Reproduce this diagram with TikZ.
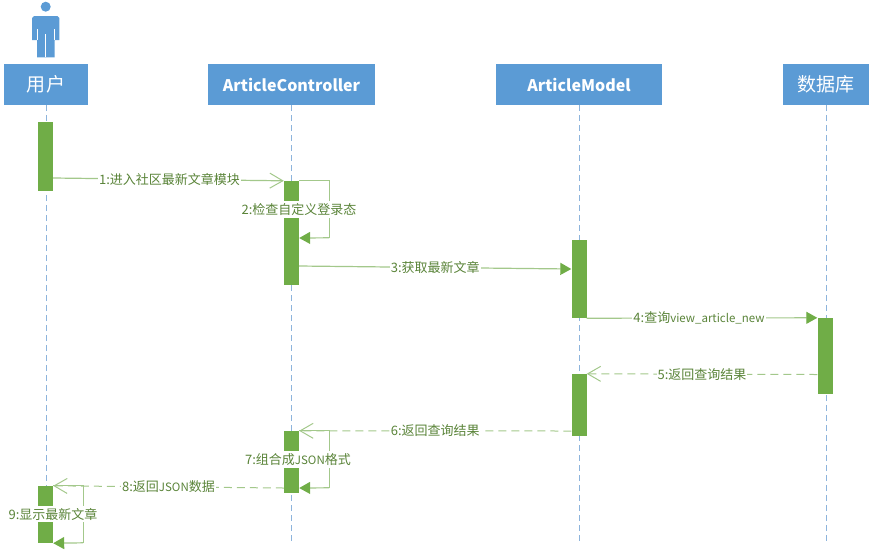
\documentclass[tikz,border=0pt]{standalone}
\usepackage{fontspec}
\setmainfont{Noto Sans CJK SC}
\usetikzlibrary{arrows.meta}
\definecolor{headblue}{HTML}{5B9BD5}
\definecolor{lineblue}{HTML}{8DB4DC}
\definecolor{bargreen}{HTML}{70AD47}
\definecolor{msggreen}{HTML}{A3C88B}
\definecolor{textgreen}{HTML}{5A8439}
\newcommand{\latinpart}[1]{{\fontsize{11.5}{14}\selectfont #1}}
\tikzset{
  lifehead/.style={fill=headblue,text=white,minimum height=41pt,inner sep=0pt,font=\fontsize{16}{20}\selectfont\bfseries},
  cjkhead/.style={lifehead,font=\fontsize{19}{22}\selectfont},
  lifeline/.style={lineblue,line width=1pt,dash pattern=on 6pt off 4pt},
  actbar/.style={fill=bargreen,minimum width=15pt,inner sep=0pt},
  msglabel/.style={fill=white,text=textgreen,inner xsep=1pt,inner ysep=2pt,font=\fontsize{13}{15}\selectfont},
  callmsg/.style={msggreen,line width=1.2pt,-{Triangle[length=11pt,width=12pt,color=bargreen]}},
  openmsg/.style={msggreen,line width=1.2pt,-{Straight Barb[length=13pt,width=15pt,line width=1pt,color=msggreen]}},
  backmsg/.style={openmsg,line width=1pt,dash pattern=on 8pt off 5pt},
}
\begin{document}
\begin{tikzpicture}[x=1pt,y=-1pt]
\useasboundingbox (0,0) rectangle (869,550);

% actor
\fill[headblue] (45.7,6.7) circle (5);
\fill[headblue] (34,16) -- (57.5,16) -- (59.3,18) -- (59.3,40) -- (54.5,40) -- (54.5,57.3)
  -- (37,57.3) -- (37,40) -- (32,40) -- (32,18) -- cycle;
\draw[white,line width=.7pt] (45.7,34) -- (45.7,57.3) (37,29) -- (37,40) (54.5,29) -- (54.5,40);

% heads
\node[cjkhead,minimum width=84pt] (user) at (46,84.5) {用户};
\node[lifehead,minimum width=167pt] (ctrl) at (291.5,84.5) {ArticleController};
\node[lifehead,minimum width=166pt] (model) at (579,84.5) {ArticleModel};
\node[cjkhead,minimum width=86pt] (db) at (826,84.5) {数据库};

% lifelines
\coordinate (userend) at (46,490);
\coordinate (ctrlend) at (291.5,541);
\coordinate (modelend) at (579,541);
\coordinate (dbend) at (826,541);
\draw[lifeline] (user) -- (userend);
\draw[lifeline] (ctrl) -- (ctrlend);
\draw[lifeline] (model) -- (modelend);
\draw[lifeline] (db) -- (dbend);

% activations
\node[actbar,minimum height=69pt] (user1) at (45.5,156.5) {};
\node[actbar,minimum height=104pt] (ctrl1) at (291.5,233) {};
\node[actbar,minimum height=78pt] (model1) at (579,279) {};
\node[actbar,minimum height=76pt] (db1) at (825,356) {};
\node[actbar,minimum height=62pt] (model2) at (579,405) {};
\node[actbar,minimum height=62pt] (ctrl2) at (291.5,462) {};
\node[actbar,minimum height=57pt] (user2) at (45.5,514.5) {};

% messages
\draw[openmsg] ([yshift=-21.5pt]user1.east) -- (ctrl1.north west)
  node[msglabel,midway,xshift=1pt] (msg1) {1:进入社区最新文章模块};
\draw[msggreen,line width=1.2pt] (ctrl1.north east) -- ++(30,0) coordinate (turn2) -- ++(0,57) coordinate (back2);
\draw[callmsg] (back2) -- ([yshift=-5pt]ctrl1.east);
\node[msglabel] (msg2) at (299,209.5) {2:检查自定义登录态};
\draw[callmsg] ([yshift=-33pt]ctrl1.east) -- ([yshift=10pt]model1.west)
  node[msglabel,midway] (msg3) {3:获取最新文章};
\draw[callmsg] (model1.south east) -- (db1.north west)
  node[msglabel,midway,xshift=-3pt] (msg4) {4:查询\latinpart{view\_article\_new}};
\draw[backmsg] ([yshift=-18.5pt]db1.west) -- (model2.north east)
  node[msglabel,midway] (msg5) {5:返回查询结果};
\draw[backmsg] ([yshift=-26pt]model2.west) -- (ctrl2.north east)
  node[msglabel,midway] (msg6) {6:返回查询结果};
\draw[msggreen,line width=1.2pt] (ctrl2.north east) -- ++(30,0) coordinate (turn7) -- ++(0,57) coordinate (back7);
\draw[callmsg] (back7) -- ([yshift=-26pt]ctrl2.east);
\node[msglabel] (msg7) at (298,459.5) {7:组合成\latinpart{JSON}格式};
\draw[backmsg] ([yshift=-26pt]ctrl2.west) -- (user2.north east)
  node[msglabel,midway] (msg8) {8:返回\latinpart{JSON}数据};
\draw[msggreen,line width=1.2pt] (user2.north east) -- ++(30,0) coordinate (turn9) -- ++(0,57) coordinate (back9);
\draw[callmsg] (back9) -- (user2.south east);
\node[msglabel] (msg9) at (53,514) {9:显示最新文章};
\end{tikzpicture}
\end{document}
